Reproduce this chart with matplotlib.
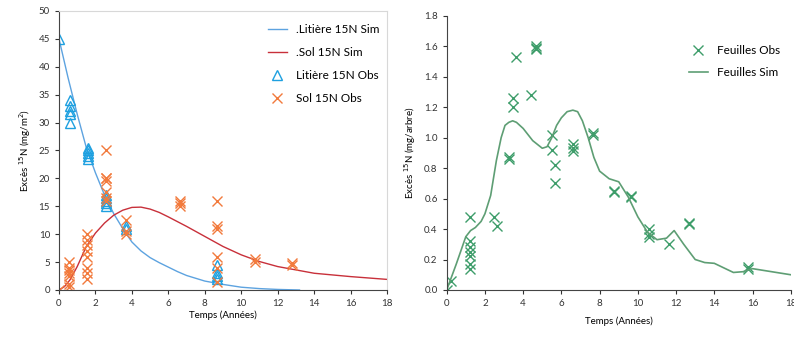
import numpy as np
import matplotlib.pyplot as plt

plt.rcParams['font.family'] = ['Lato', 'DejaVu Sans']

# --- left panel: litiere / sol ---
lit_sim_t = [0, 0.5, 1, 1.5, 2, 2.5, 3, 3.5, 4, 4.5, 5, 5.5, 6, 6.5, 7, 7.5, 8, 9, 10, 11, 12, 13.2]
lit_sim_v = [45, 38, 31.5, 25.5, 21, 17, 13.7, 11.0, 8.6, 7.0, 5.8, 4.9, 4.1, 3.3, 2.6, 2.1,
             1.6, 1.0, 0.5, 0.25, 0.1, 0.0]

sol_sim_t = [0, 0.3, 0.6, 1, 1.5, 2, 2.5, 3, 3.5, 4, 4.5, 5, 5.5, 6, 7, 8, 9, 10, 11, 12, 13,
             14, 16, 18]
sol_sim_v = [0, 0.6, 1.8, 4.2, 7.8, 10.2, 12.0, 13.4, 14.3, 14.8, 14.85, 14.5, 13.9, 13.1, 11.4,
             9.6, 7.8, 6.3, 5.1, 4.2, 3.6, 3.0, 2.4, 1.9]

lit_obs_t = [0, 0.6, 0.6, 0.6, 0.6, 0.6, 1.6, 1.6, 1.6, 1.6, 1.6,
             2.6, 2.6, 2.6, 2.6, 2.6, 3.65, 3.65, 8.65, 8.65, 8.65, 8.65]
lit_obs_v = [45, 34, 33, 32, 31.5, 30, 25.5, 25, 24.5, 24, 23.5,
             17, 16.5, 16, 15.5, 15, 11.5, 11, 4.5, 3, 2.5, 2]

sol_obs_t = [0, 0.55, 0.55, 0.55, 0.55, 0.55, 0.55, 0.55,
             1.55, 1.55, 1.55, 1.55, 1.55, 1.55, 1.55, 1.55,
             2.6, 2.6, 2.6, 2.6, 2.6, 2.6, 2.6,
             3.65, 3.65, 3.65, 6.65, 6.65, 6.65,
             8.65, 8.65, 8.65, 8.65, 8.65, 8.65, 10.75, 10.75, 12.8, 12.8]
sol_obs_v = [0, 5, 4, 3.5, 3, 2.5, 1, 0.5,
             10, 9, 8, 7, 6, 4, 3, 2,
             25, 20, 20, 19.5, 17.5, 16.5, 16,
             12.5, 10.5, 10, 16, 15.5, 15,
             16, 11.5, 11, 6, 4, 1.5, 5.5, 5, 4.8, 4.5]

# --- right panel: feuilles ---
feu_obs_t = [0, 0.25, 1.22, 1.22, 1.22, 1.22, 1.22, 1.22, 1.22, 2.45, 2.65,
             3.25, 3.25, 3.45, 3.45, 3.6, 4.4, 4.65, 4.65, 4.65,
             5.5, 5.5, 5.65, 5.65, 6.6, 6.6, 6.6, 7.65, 7.65,
             8.75, 8.75, 9.65, 9.65, 10.6, 10.6, 10.6, 11.65, 12.7, 12.7, 15.75, 15.75]
feu_obs_v = [0.0, 0.06, 0.48, 0.32, 0.28, 0.25, 0.22, 0.17, 0.14, 0.48, 0.42,
             0.87, 0.86, 1.26, 1.2, 1.53, 1.28, 1.6, 1.59, 1.58,
             1.02, 0.92, 0.82, 0.70, 0.96, 0.93, 0.91, 1.03, 1.02,
             0.65, 0.64, 0.62, 0.61, 0.40, 0.37, 0.35, 0.30, 0.44, 0.43, 0.15, 0.14]

feu_sim_t = [0, 0.5, 1, 1.25, 1.5, 1.8, 2, 2.3, 2.6, 2.85, 3.05, 3.25, 3.45, 3.65, 4, 4.5, 5,
             5.25, 5.5, 5.75, 6, 6.3, 6.6, 6.85, 7.1, 7.4, 7.7, 8, 8.5, 9, 9.5, 10, 10.5, 11,
             11.5, 11.9, 12.4, 13, 13.5, 14, 14.5, 15, 15.5, 16, 17, 18]
feu_sim_v = [0, 0.17, 0.35, 0.39, 0.41, 0.45, 0.5, 0.62, 0.85, 1.0, 1.08, 1.1, 1.11, 1.1,
             1.06, 0.98, 0.93, 0.94, 1.0, 1.08, 1.13, 1.17, 1.18, 1.17, 1.11, 1.0, 0.87, 0.78,
             0.73, 0.71, 0.61, 0.48, 0.38, 0.33, 0.34, 0.39, 0.3, 0.2, 0.18, 0.175, 0.145,
             0.115, 0.12, 0.14, 0.12, 0.1]

fig = plt.figure(figsize=(7.94, 3.37), dpi=100)
ax1 = fig.add_axes([0.0743, 0.1395, 0.4131, 0.8279])
ax2 = fig.add_axes([0.5626, 0.1395, 0.4333, 0.814])

ax1.plot(lit_sim_t, lit_sim_v, color='#5DA3E0', lw=1.0, label='.Litière 15N Sim')
ax1.plot(sol_sim_t, sol_sim_v, color='#C8303A', lw=1.0, label='.Sol 15N Sim')
ax1.plot(lit_obs_t, lit_obs_v, ls='none', marker='^', mfc='none', mec='#1EA0E0',
         ms=7.5, mew=1.0, label='Litière 15N Obs')
ax1.plot(sol_obs_t, sol_obs_v, ls='none', marker='x', color='#F27A3C',
         ms=7.5, mew=1.0, label='Sol 15N Obs')
ax1.set_xlim(0, 18)
ax1.set_ylim(0, 50)
ax1.set_xticks(range(0, 19, 2))
ax1.set_yticks(range(0, 51, 5))
ax1.set_xlabel('Temps (Années)', fontsize=7, labelpad=2)
ax1.set_ylabel('Excès $^{15}$N (mg/m$^{2}$)', fontsize=7, labelpad=4)
ax1.legend(loc='upper right', bbox_to_anchor=(1.01, 0.99), frameon=False, fontsize=8.5,
           handlelength=1.6, labelspacing=1.0)
for sp in ['top', 'right']:
    ax1.spines[sp].set_color('#D8D8D8')

ax2.plot(feu_obs_t, feu_obs_v, ls='none', marker='x', color='#3E9D6A',
         ms=7.5, mew=1.0, label='Feuilles Obs')
ax2.plot(feu_sim_t, feu_sim_v, color='#5E9E74', lw=1.2, label='Feuilles Sim')
ax2.set_xlim(0, 18)
ax2.set_ylim(0, 1.8)
ax2.set_xticks(range(0, 19, 2))
ax2.set_yticks(np.arange(0, 1.81, 0.2))
ax2.set_yticklabels(['%.1f' % v for v in np.arange(0, 1.81, 0.2)])
ax2.set_xlabel('Temps (Années)', fontsize=7, labelpad=6)
ax2.set_ylabel('Excès $^{15}$N (mg/arbre)', fontsize=7, labelpad=4)
ax2.legend(loc='upper right', bbox_to_anchor=(1.0, 0.93), frameon=False, fontsize=8.5,
           handlelength=1.6, labelspacing=0.9)
ax2.spines['top'].set_visible(False)
ax2.spines['right'].set_visible(False)

for ax in (ax1, ax2):
    ax.tick_params(labelsize=7, length=3, width=0.8, colors='#333333')
    ax.spines['left'].set_color('#444444')
    ax.spines['bottom'].set_color('#444444')

fig.savefig('out.png', dpi=100)
